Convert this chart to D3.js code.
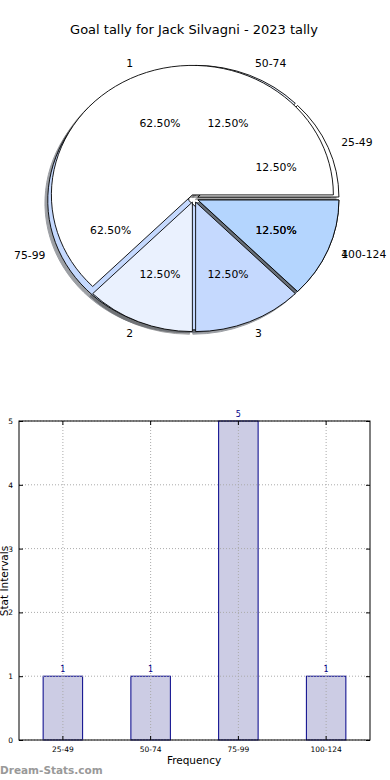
<!DOCTYPE html>
<html><head><meta charset="utf-8">
<script src="https://cdn.jsdelivr.net/npm/d3@7"></script>
<style>
html,body{margin:0;padding:0;background:#fff;}
svg{display:block;font-family:"DejaVu Sans",sans-serif;}
</style></head>
<body><svg id="c" width="390" height="780"></svg>
<script>
// ---- data ----
const title = "Goal tally for Jack Silvagni - 2023 tally";
const rangeLabels = ["25-49","50-74","75-99","100-124"];
const rangeValues = [1,1,5,1];
const tallyLabels = ["1","2","3","4"];
const tallyValues = [5,1,1,1];
const sliceColors = ["#ffffff","#eaf1fe","#c5d9fe","#b4d5fe"];
const yTicks = [0,1,2,3,4,5];

// ---- layout constants ----
const svg = d3.select("#c");
const cx = 194, cy = 198.5, rx = 141, ry = 129.5;
const explodeA = [0.03,0.03,0.04,0.03];
const explodeB = [0.03,0.03,0.03,0.03];

svg.append("text").attr("x",194).attr("y",34).attr("text-anchor","middle")
  .attr("font-size",13).attr("fill","#000").text(title);

function layout(labels, values, explode){
  const pie = d3.pie().sort(null).startAngle(0).endAngle(2*Math.PI);
  const total = d3.sum(values);
  return pie(values).map((p,i)=>{
    const mid = (p.startAngle+p.endAngle)/2; // matplotlib angle, ccw from 3 o'clock
    const ox = explode[i]*rx*Math.cos(mid), oy = -explode[i]*ry*Math.sin(mid);
    return {label:labels[i], value:values[i], pct:values[i]/total*100, color:sliceColors[i],
      a0:p.startAngle, a1:p.endAngle, mid, ox, oy};
  });
}
const pA = layout(rangeLabels, rangeValues, explodeA);
const pB = layout(tallyLabels, tallyValues, explodeB);
const arc = d3.arc().innerRadius(0).outerRadius(1);
function wedgePath(d){ return arc({startAngle:Math.PI/2-d.a1, endAngle:Math.PI/2-d.a0}); }
function shade(c){ const k=d3.rgb(c); return d3.rgb(k.r*0.3,k.g*0.3,k.b*0.3).toString(); }

const gPie = svg.append("g");
// shadows (below all wedges)
[pA,pB].forEach(P=>{
  gPie.append("g").selectAll("path").data(P).join("path")
    .attr("transform",d=>`translate(${cx+d.ox-0.02*rx},${cy+d.oy+0.02*ry}) scale(${rx},${ry})`)
    .attr("d",wedgePath).attr("fill",d=>shade(d.color)).attr("stroke",d=>shade(d.color))
    .attr("stroke-width",1).attr("vector-effect","non-scaling-stroke").attr("opacity",0.5);
});
[pA,pB].forEach(P=>{
  gPie.append("g").selectAll("path").data(P).join("path")
    .attr("transform",d=>`translate(${cx+d.ox},${cy+d.oy}) scale(${rx},${ry})`)
    .attr("d",wedgePath).attr("fill",d=>d.color).attr("stroke","#000")
    .attr("stroke-width",0.9).attr("vector-effect","non-scaling-stroke");
});
const fmt = d3.format(".2f");
[pA,pB].forEach(P=>{
  const g = gPie.append("g").attr("font-size",10.8).attr("fill","#000");
  g.selectAll("text.lab").data(P).join("text").attr("class","lab")
    .attr("x",d=>cx+d.ox+1.1*rx*Math.cos(d.mid))
    .attr("y",d=>cy+d.oy-1.1*ry*Math.sin(d.mid))
    .attr("dy","0.35em")
    .attr("text-anchor",d=>Math.cos(d.mid)>0?"start":"end")
    .text(d=>d.label);
  g.selectAll("text.pct").data(P).join("text").attr("class","pct")
    .attr("x",d=>cx+d.ox+0.6*rx*Math.cos(d.mid))
    .attr("y",d=>cy+d.oy-0.6*ry*Math.sin(d.mid))
    .attr("dy","0.35em").attr("text-anchor","middle")
    .text(d=>fmt(d.pct)+"%");
});

// ---- bar chart ----
const L=19, R=370, T=421, B=740;
const x = d3.scaleBand().domain(rangeLabels).range([L,R]).paddingInner(0.55).paddingOuter(0.275);
const y = d3.scaleLinear().domain([0,5]).range([B,T]);
const gb = svg.append("g");
gb.selectAll("rect.bar").data(rangeLabels).join("rect").attr("class","bar")
  .attr("x",d=>x(d)).attr("width",x.bandwidth())
  .attr("y",(d,i)=>y(rangeValues[i])).attr("height",(d,i)=>B-y(rangeValues[i]))
  .attr("fill","#ccccE4").attr("stroke","#000088").attr("stroke-width",1);
// grid
const grid = gb.append("g").attr("stroke","#aaaaaa").attr("stroke-width",1).attr("stroke-dasharray","1,2");
grid.selectAll("line.h").data(yTicks).join("line").attr("class","h")
  .attr("x1",L).attr("x2",R).attr("y1",d=>y(d)).attr("y2",d=>y(d));
grid.selectAll("line.v").data(rangeLabels).join("line").attr("class","v")
  .attr("x1",d=>x(d)+x.bandwidth()/2).attr("x2",d=>x(d)+x.bandwidth()/2).attr("y1",T).attr("y2",B);
// value labels
gb.selectAll("text.val").data(rangeLabels).join("text").attr("class","val")
  .attr("x",d=>x(d)+x.bandwidth()/2).attr("y",(d,i)=>y(rangeValues[i])-4)
  .attr("text-anchor","middle").attr("font-size",8).attr("fill","#000088")
  .text((d,i)=>rangeValues[i]);
// axes
const yAxis = d3.axisLeft(y).tickValues(yTicks).tickSize(-4).tickPadding(6).tickFormat(d3.format("d"));
const gy = gb.append("g").attr("transform",`translate(${L},0)`).call(yAxis);
const gy2 = gb.append("g").attr("transform",`translate(${R},0)`).call(d3.axisRight(y).tickValues(yTicks).tickSize(-4).tickFormat(""));
const xAxis = d3.axisBottom(x).tickSize(-4).tickPadding(7);
const gx = gb.append("g").attr("transform",`translate(0,${B})`).call(xAxis);
const gx2 = gb.append("g").attr("transform",`translate(0,${T})`).call(d3.axisTop(x).tickSize(-4).tickFormat(""));
[gy,gy2,gx,gx2].forEach(g=>{ g.select(".domain").remove(); g.selectAll("text").attr("font-size",7.5).attr("font-family","DejaVu Sans").attr("fill","#000"); });
gb.append("rect").attr("x",L).attr("y",T).attr("width",R-L).attr("height",B-T)
  .attr("fill","none").attr("stroke","#000").attr("stroke-width",1);
gb.append("text").attr("x",194).attr("y",764).attr("text-anchor","middle").attr("font-size",10.5).text("Frequency");
gb.append("text").attr("transform","translate(8,581) rotate(-90)").attr("text-anchor","middle").attr("font-size",10.5).text("Stat Intervals");
svg.append("text").attr("x",0).attr("y",774).attr("font-size",10.5).attr("font-weight","bold").attr("fill","#999").text("Dream-Stats.com");
</script></body></html>
